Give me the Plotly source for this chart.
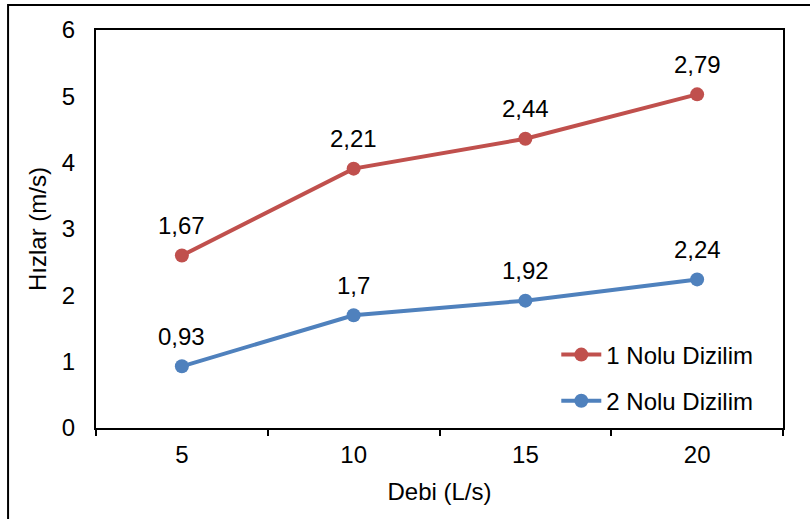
import numpy as np
import plotly.graph_objects as go

# ---- data ----
categories = ["5", "10", "15", "20"]
series1_name = "1 Nolu Dizilim"
series2_name = "2 Nolu Dizilim"
series1_values = [1.67, 2.21, 2.44, 2.79]   # stacked on top of series 2
series2_values = [0.93, 1.70, 1.92, 2.24]
y_tick_values = [0, 1, 2, 3, 4, 5, 6]
x_title = "Debi (L/s)"
y_title = "Hızlar (m/s)"

RED = "#C0504D"
BLUE = "#4F81BD"
FONT = "Liberation Sans, Arial, sans-serif"
FS = 24


def fmt(v):
    return f"{v:g}".replace(".", ",")


stacked1 = np.add(series2_values, series1_values)

fig = go.Figure()
fig.add_trace(go.Scatter(
    x=categories, y=series2_values, name=series2_name,
    mode="lines+markers",
    line=dict(color=BLUE, width=4), marker=dict(color=BLUE, size=14),
    legendgroup="b", legendrank=2,
))
fig.add_trace(go.Scatter(
    x=categories, y=stacked1, name=series1_name,
    mode="lines+markers",
    line=dict(color=RED, width=4), marker=dict(color=RED, size=14),
    legendgroup="a", legendrank=1,
))

for tops, vals in [(series2_values, series2_values),
                   (stacked1, series1_values)]:
    for i, (t, v) in enumerate(zip(tops, vals)):
        # category axis: position by category index
        fig.add_annotation(x=i, y=t, text=fmt(v), showarrow=False,
                           yanchor="middle", yshift=30,
                           font=dict(family=FONT, size=FS, color="black"))

fig.add_shape(type="rect", xref="paper", yref="paper",
              x0=-0.128, x1=1.2, y0=-0.4, y1=1.063,
              line=dict(color="black", width=2), layer="below")

fig.update_layout(
    width=810, height=519,
    margin=dict(l=96, r=27, t=30, b=91, autoexpand=False),
    paper_bgcolor="white", plot_bgcolor="white",
    font=dict(family=FONT, size=FS, color="black"),
    showlegend=True,
    legend=dict(x=0.67, xanchor="left", y=0.24, yanchor="top",
                bgcolor="rgba(0,0,0,0)", traceorder="grouped",
                tracegroupgap=12, itemwidth=40,
                font=dict(family=FONT, size=FS, color="black")),
    xaxis=dict(type="category", range=[-0.5, len(categories) - 0.5],
               showgrid=False, zeroline=False,
               showline=True, linecolor="black", linewidth=2, mirror=True,
               ticks="outside", tickson="boundaries", ticklen=6,
               tickcolor="black", tickwidth=2, tickangle=0,
               ticklabelstandoff=4,
               title=dict(text=x_title, standoff=16,
                          font=dict(family=FONT, size=FS))),
    yaxis=dict(range=[0, 6], tickvals=y_tick_values, showgrid=False,
               zeroline=False, showline=True, linecolor="black",
               linewidth=2, mirror=True, ticks="",
               ticklabelstandoff=14,
               title=dict(text=y_title, standoff=8,
                          font=dict(family=FONT, size=FS))),
)

fig.write_html("out.html")
